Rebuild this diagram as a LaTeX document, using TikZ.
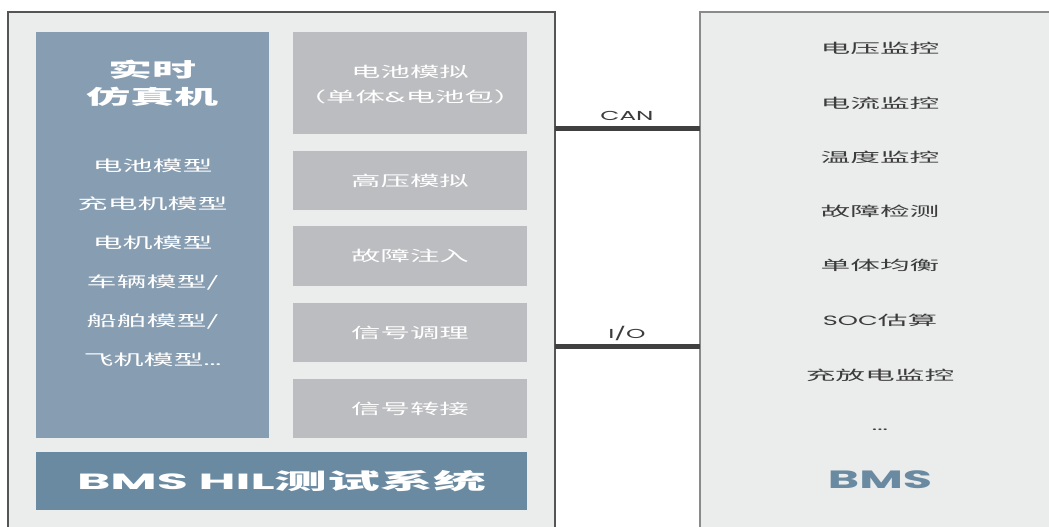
\documentclass[tikz,border=0pt]{standalone}
\usepackage{fontspec}
\setmainfont{Noto Sans CJK SC}
\newfontfamily\cjk[FakeStretch=2]{Noto Sans CJK SC}
\newfontfamily\cjkr[FakeStretch=2.2]{Noto Sans CJK SC}
\newfontfamily\cjkt[FakeStretch=2.2]{Noto Sans CJK SC}
\newfontfamily\cjkw[FakeStretch=2.4]{Noto Sans CJK SC}
\newfontfamily\lat[FakeStretch=1.9]{Poppins}
\newfontfamily\latw[FakeStretch=2.3]{Poppins}
\definecolor{panelbg}{HTML}{EBECEC}
\definecolor{leftborder}{HTML}{555555}
\definecolor{rightborder}{HTML}{8A8A8A}
\definecolor{simblue}{HTML}{879DB1}
\definecolor{boxgray}{HTML}{BCBDC0}
\definecolor{barblue}{HTML}{6A8AA1}
\definecolor{txtdark}{HTML}{3C3C3C}
\definecolor{busgray}{HTML}{404040}
\tikzset{
  base/.style={inner sep=0pt,outer sep=0pt},
  outerbox/.style={base,fill=panelbg,anchor=north west},
  simbox/.style={base,fill=simblue,minimum width=233,minimum height=406},
  modbox/.style={base,fill=boxgray,minimum width=234},
  barbox/.style={base,fill=barblue,minimum width=491,minimum height=58},
  wtxt/.style={base,text=white,font=\cjk\fontsize{15}{17}\selectfont},
  gtxt/.style={base,text=white,font=\cjk\fontsize{14.7}{16}\selectfont},
  ttl/.style={base,text=white,font=\cjkt\bfseries\fontsize{20}{22}\selectfont},
  rtxt/.style={base,text=txtdark,font=\cjkr\fontsize{13.5}{15}\selectfont},
  bus/.style={busgray,line width=5pt},
  buslbl/.style={base,text=txtdark,font=\lat\fontsize{13}{14}\selectfont},
}
\begin{document}
\begin{tikzpicture}[x=1pt,y=-1pt]
\useasboundingbox (0,0) rectangle (1049,527);
\fill[white] (0,0) rectangle (1049,527);
\begin{scope}
\clip (0,0) rectangle (1049,527);
% outer boxes
\node[outerbox,draw=leftborder,line width=1.5pt,minimum width=547,minimum height=540] (hil) at (8,12) {};
\node[outerbox,draw=rightborder,line width=2pt,minimum width=400,minimum height=540] (bms) at (700,12) {};
% simulator panel
\node[simbox] (sim) at (152.5,235) {};
\node[ttl] (t1) at (152.5,70) {实时};
\node[ttl] (t2) at (152.5,97) {仿真机};
\node[wtxt] (m1) at (152.5,166) {电池模型};
\node[wtxt] (m2) at (152.5,204) {充电机模型};
\node[wtxt] (m3) at (152.5,243) {电机模型};
\node[wtxt] (m4) at (152.5,283) {车辆模型/};
\node[wtxt] (m5) at (152.5,322) {船舶模型/};
\node[wtxt] (m6) at (152.5,360) {飞机模型{\lat ...}};
% module boxes
\node[modbox,minimum height=102] (b1) at (410,83) {};
\node[modbox,minimum height=59] (b2) at (410,180.5) {};
\node[modbox,minimum height=60] (b3) at (410,256) {};
\node[modbox,minimum height=59] (b4) at (410,332.5) {};
\node[modbox,minimum height=59] (b5) at (410,408.5) {};
\node[gtxt] (b1a) at (410,72) {电池模拟};
\node[gtxt] (b1b) at (410,97) {（单体{\lat\&}电池包）};
\node[gtxt] at (b2) {高压模拟};
\node[gtxt] at (b3) {故障注入};
\node[gtxt] at (b4) {信号调理};
\node[gtxt] at (b5) {信号转接};
% bottom bar
\node[barbox] (bar) at (281.5,481) {};
\node[base,text=white,font=\bfseries\fontsize{22}{24}\selectfont] at (bar) {{\latw BMS HIL}{\cjkw 测试系统}};
% BMS list
\node[rtxt] (r1) at (880,48) {电压监控};
\node[rtxt] (r2) at (880,103) {电流监控};
\node[rtxt] (r3) at (880,157) {温度监控};
\node[rtxt] (r4) at (880,211) {故障检测};
\node[rtxt] (r5) at (880,265) {单体均衡};
\node[rtxt] (r6) at (880,320) {{\lat SOC}估算};
\node[rtxt] (r7) at (880,375) {充放电监控};
\node[rtxt] (r8) at (880,430) {{\lat ...}};
\node[base,text=barblue,font=\lat\bfseries\fontsize{25}{27}\selectfont] (r9) at (880,480) {BMS};
% buses
\coordinate (canY) at (627,128.5);
\coordinate (ioY) at (627,346);
\draw[bus] (hil.east |- canY) -- (bms.west |- canY);
\draw[bus] (hil.east |- ioY) -- (bms.west |- ioY);
\node[buslbl] (can) at (627,116) {CAN};
\node[buslbl] (io) at (627,333) {I/O};
\end{scope}
\end{tikzpicture}
\end{document}
